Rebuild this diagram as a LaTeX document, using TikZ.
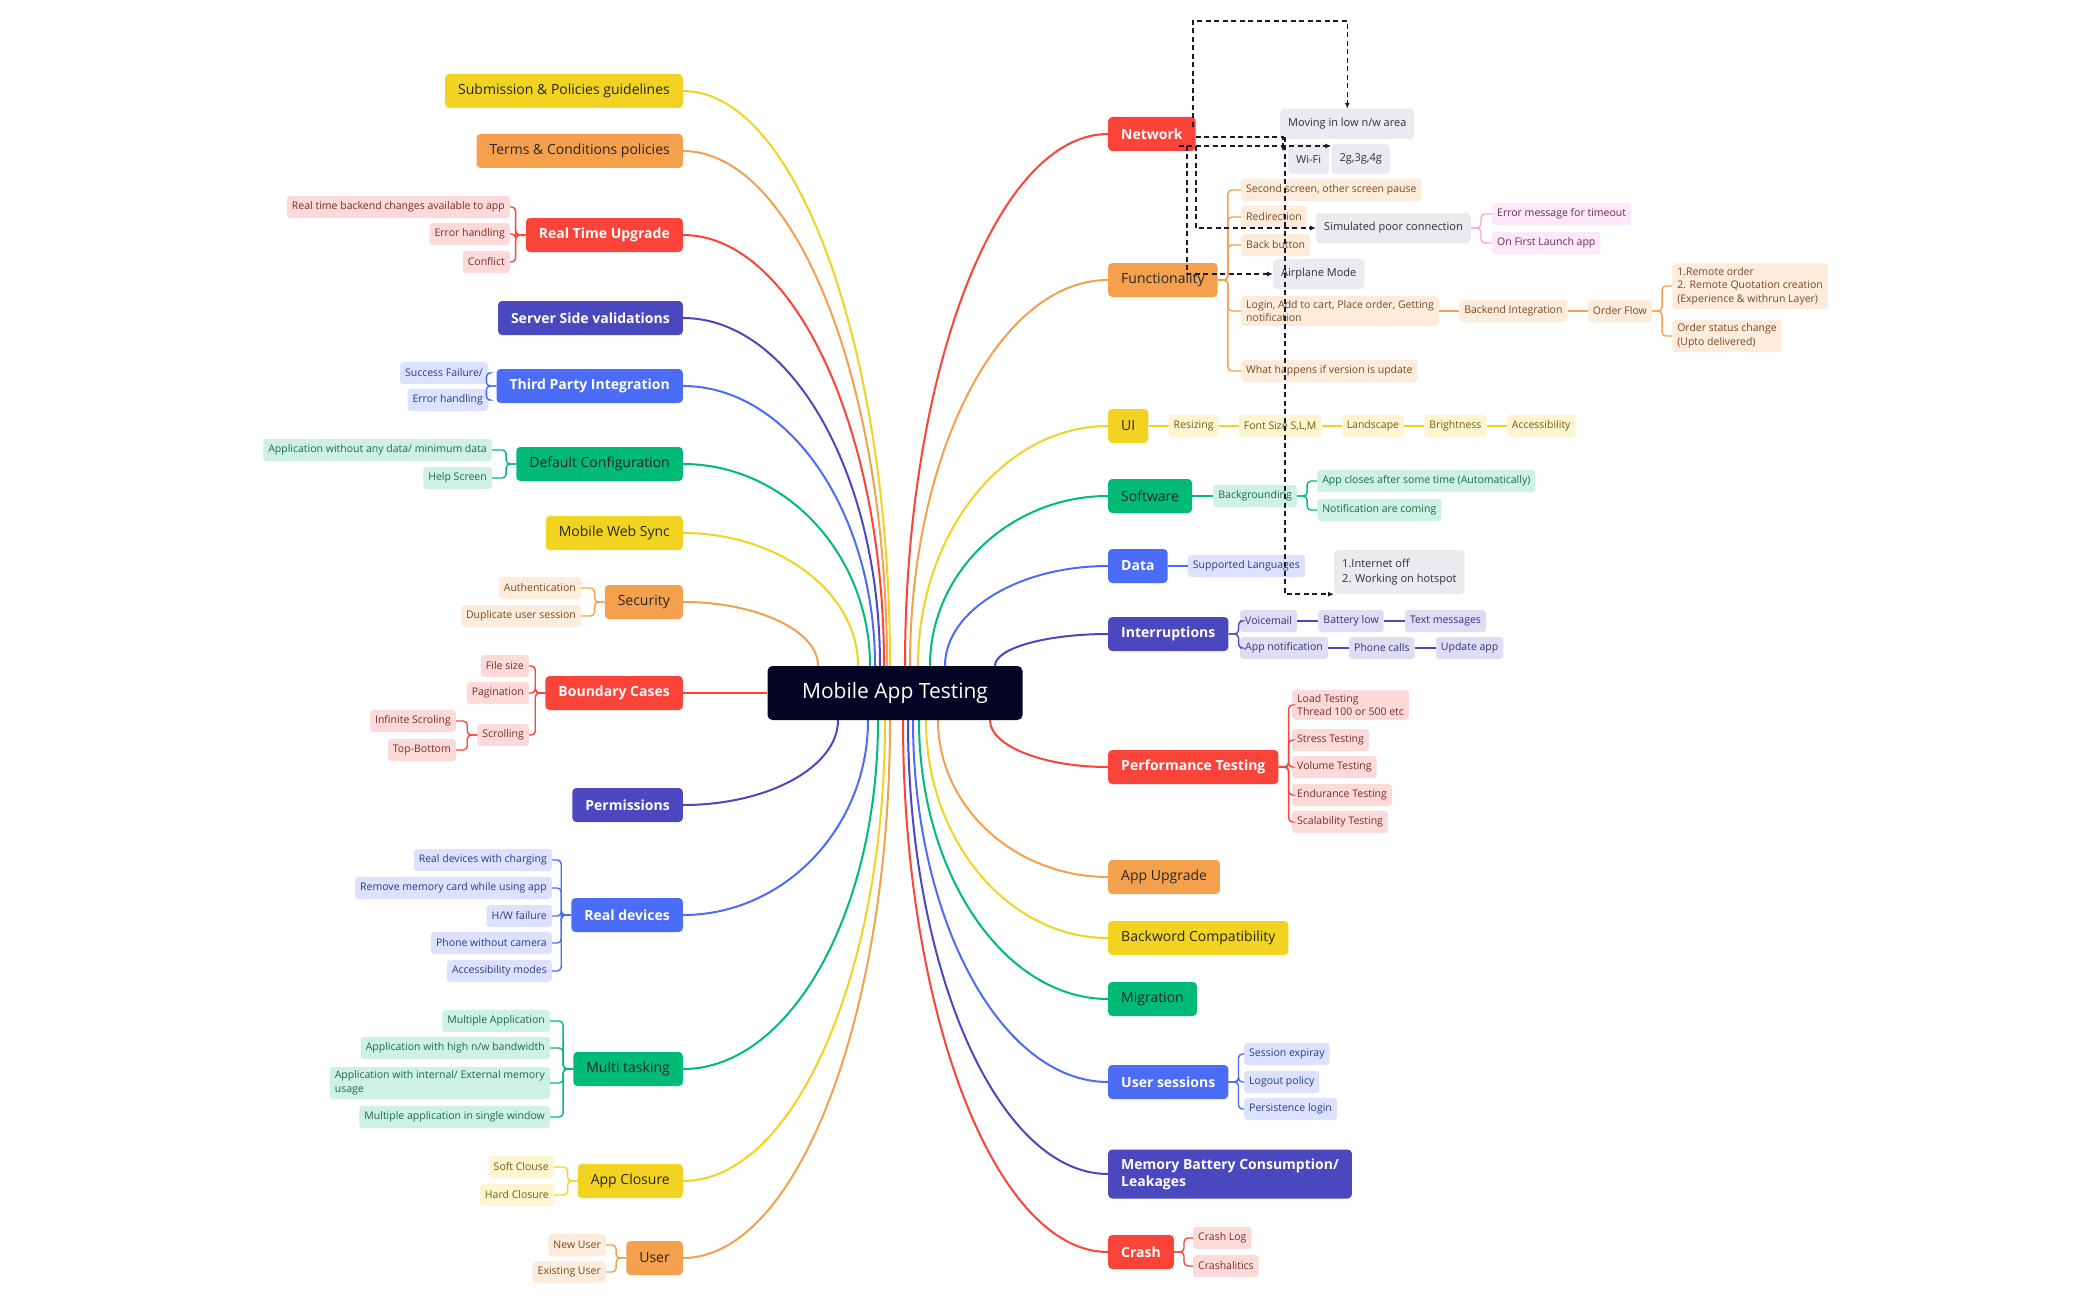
\documentclass[tikz,border=0pt]{standalone}
\usepackage{fontspec}
\setmainfont{Open Sans}
\usetikzlibrary{arrows.meta,positioning,calc,backgrounds}
\definecolor{mmroot}{RGB}{4,4,36}
\definecolor{mmred}{RGB}{250,67,57}
\definecolor{mmorange}{RGB}{245,160,76}
\definecolor{mmyellow}{RGB}{242,211,34}
\definecolor{mmgreen}{RGB}{0,186,120}
\definecolor{mmblue}{RGB}{74,108,247}
\definecolor{mmpurple}{RGB}{75,72,191}
\definecolor{mmpink}{RGB}{245,166,216}
\definecolor{mmdash}{RGB}{25,25,55}
\definecolor{lred}{RGB}{253,218,218}\definecolor{tred}{RGB}{122,43,43}
\definecolor{lorange}{RGB}{253,235,220}\definecolor{torange}{RGB}{122,74,31}
\definecolor{lyellow}{RGB}{253,245,208}\definecolor{tyellow}{RGB}{110,94,18}
\definecolor{lgreen}{RGB}{205,241,227}\definecolor{tgreen}{RGB}{27,107,74}
\definecolor{lblue}{RGB}{220,226,253}\definecolor{tblue}{RGB}{43,58,140}
\definecolor{lpurple}{RGB}{222,221,243}\definecolor{tpurple}{RGB}{52,50,122}
\definecolor{lpink}{RGB}{252,232,246}\definecolor{tpink}{RGB}{107,43,92}
\definecolor{lgray}{RGB}{235,234,238}\definecolor{tgray}{RGB}{46,46,58}
\tikzset{
  topic/.style={rounded corners=4pt, minimum height=34pt, inner xsep=13pt, inner ysep=3pt,
    text=black!85, font=\fontsize{14}{17}\selectfont},
  hottopic/.style={topic, text=white, font=\fontsize{14}{17}\selectfont\bfseries},
  leaf/.style={rounded corners=3pt, minimum height=22pt, inner xsep=5pt, inner ysep=4pt,
    align=left, font=\fontsize{10.5}{13.5}\selectfont},
  rleaf/.style={leaf, fill=lred, text=tred},
  oleaf/.style={leaf, fill=lorange, text=torange},
  yleaf/.style={leaf, fill=lyellow, text=tyellow},
  gleaf/.style={leaf, fill=lgreen, text=tgreen},
  bleaf/.style={leaf, fill=lblue, text=tblue},
  pleaf/.style={leaf, fill=lpurple, text=tpurple},
  kleaf/.style={leaf, fill=lpink, text=tpink},
  ghost/.style={rounded corners=4pt, fill=lgray, text=tgray, minimum height=30pt, inner xsep=8pt,
    inner ysep=4pt, align=left, font=\fontsize{11}{14.5}\selectfont},
  branchline/.style={line width=2pt},
  twigline/.style={line width=1.4pt, rounded corners=4pt},
  netlink/.style={draw=mmdash, line width=1.5pt, dash pattern=on 5pt off 3.5pt,
    -{Latex[length=6pt,width=5pt]}},
}
\newcommand\mmbranch[4]{%
  \coordinate (tip) at ([xshift=#4pt]root.#3);
  \draw[branchline, draw=#1] (#2) .. controls ($(#2)!0.55!(#2 -| tip)$) and ($(tip)!0.55!(#2 -| tip)$) .. (tip);}

\begin{document}
\begin{tikzpicture}[x=1pt,y=-1pt]
  \useasboundingbox (0,0) rectangle (2100,1300);
  \node[fill=mmroot, text=white, rounded corners=5pt, minimum width=255pt, minimum height=54pt,
    font=\fontsize{21}{25}\selectfont] (root) at (895,693) {Mobile App Testing};

  % left topics
  \node[topic, fill=mmyellow, anchor=east] (sub) at (683,91) {Submission \& Policies guidelines};
  \node[topic, fill=mmorange, anchor=east] (terms) at (683,151) {Terms \& Conditions policies};
  \node[hottopic, fill=mmred, anchor=east] (rtu) at (683,235) {Real Time Upgrade};
  \node[hottopic, fill=mmpurple, anchor=east] (ssv) at (683,318) {Server Side validations};
  \node[hottopic, fill=mmblue, anchor=east] (tpi) at (683,386) {Third Party Integration};
  \node[topic, fill=mmgreen, anchor=east] (dconf) at (683,464) {Default Configuration};
  \node[topic, fill=mmyellow, anchor=east] (mws) at (683,533) {Mobile Web Sync};
  \node[topic, fill=mmorange, anchor=east] (sec) at (683,602) {Security};
  \node[hottopic, fill=mmred, anchor=east] (bc) at (683,693) {Boundary Cases};
  \node[hottopic, fill=mmpurple, anchor=east] (perm) at (683,805) {Permissions};
  \node[hottopic, fill=mmblue, anchor=east] (rdev) at (683,915) {Real devices};
  \node[topic, fill=mmgreen, anchor=east] (multi) at (683,1069) {Multi tasking};
  \node[topic, fill=mmyellow, anchor=east] (aclose) at (683,1181) {App Closure};
  \node[topic, fill=mmorange, anchor=east] (user) at (683,1258) {User};

  \node[rleaf, anchor=east] (rt1) at (510,207) {Real time backend changes available to app};
  \node[rleaf, anchor=east] (rt2) at (510,234) {Error handling};
  \node[rleaf, anchor=east] (rt3) at (510,262) {Conflict};
  \node[bleaf, anchor=east] (tp1) at (488,373) {Success Failure/};
  \node[bleaf, anchor=east] (tp2) at (488,400) {Error handling};
  \node[gleaf, anchor=east] (dc1) at (492,450) {Application without any data/ minimum data};
  \node[gleaf, anchor=east] (dc2) at (492,478) {Help Screen};
  \node[oleaf, anchor=east] (se1) at (581,588) {Authentication};
  \node[oleaf, anchor=east] (se2) at (581,616) {Duplicate user session};
  \node[rleaf, anchor=east] (bc1) at (529,666) {File size};
  \node[rleaf, anchor=east] (bc2) at (529,693) {Pagination};
  \node[rleaf, anchor=east] (bc3) at (529,735) {Scrolling};
  \node[rleaf, anchor=east] (sc1) at (456,721) {Infinite Scroling};
  \node[rleaf, anchor=east] (sc2) at (456,750) {Top-Bottom};
  \node[bleaf, anchor=east] (rd1) at (552,860) {Real devices with charging};
  \node[bleaf, anchor=east] (rd2) at (552,888) {Remove memory card while using app};
  \node[bleaf, anchor=east] (rd3) at (552,916) {H/W failure};
  \node[bleaf, anchor=east] (rd4) at (552,943) {Phone without camera};
  \node[bleaf, anchor=east] (rd5) at (552,971) {Accessibility modes};
  \node[gleaf, anchor=east] (mt1) at (550,1021) {Multiple Application};
  \node[gleaf, anchor=east] (mt2) at (550,1048) {Application with high n/w bandwidth};
  \node[gleaf, anchor=east] (mt3) at (550,1083) {Application with internal/ External memory\\usage};
  \node[gleaf, anchor=east] (mt4) at (550,1117) {Multiple application in single window};
  \node[yleaf, anchor=east] (ac1) at (554,1167) {Soft Clouse};
  \node[yleaf, anchor=east] (ac2) at (554,1195) {Hard Closure};
  \node[oleaf, anchor=east] (us1) at (606,1245) {New User};
  \node[oleaf, anchor=east] (us2) at (606,1272) {Existing User};

  % right topics
  \node[hottopic, fill=mmred, anchor=west] (net) at (1108,134) {Network};
  \node[topic, fill=mmorange, anchor=west] (func) at (1108,280) {Functionality};
  \node[topic, fill=mmyellow, anchor=west] (ui) at (1108,426) {UI};
  \node[topic, fill=mmgreen, anchor=west] (soft) at (1108,496) {Software};
  \node[hottopic, fill=mmblue, anchor=west] (data) at (1108,566) {Data};
  \node[hottopic, fill=mmpurple, anchor=west] (intr) at (1108,634) {Interruptions};
  \node[hottopic, fill=mmred, anchor=west] (perf) at (1108,767) {Performance Testing};
  \node[topic, fill=mmorange, anchor=west] (aupg) at (1108,877) {App Upgrade};
  \node[topic, fill=mmyellow, anchor=west] (bcomp) at (1108,938) {Backword Compatibility};
  \node[topic, fill=mmgreen, anchor=west] (migr) at (1108,999) {Migration};
  \node[hottopic, fill=mmblue, anchor=west] (usess) at (1108,1082) {User sessions};
  \node[hottopic, fill=mmpurple, anchor=west, align=left, inner ysep=9pt] (mem) at (1108,1174) {Memory Battery Consumption/\\Leakages};
  \node[hottopic, fill=mmred, anchor=west] (crash) at (1108,1252) {Crash};

  \node[ghost, anchor=west] (mov) at (1280,124) {Moving in low n/w area};
  \node[ghost, anchor=west] (wifi) at (1288,159) {Wi-Fi};
  \node[ghost, right=2pt of wifi] (g234) {2g,3g,4g};
  \node[ghost, anchor=west] (sim) at (1316,228) {Simulated poor connection};
  \node[ghost, anchor=west] (air) at (1273,274) {Airplane Mode};
  \node[ghost, anchor=west, minimum height=44pt] (inet) at (1334,572) {1.Internet off\\2. Working on hotspot};
  \node[kleaf, anchor=west] (sm1) at ([xshift=21pt,yshift=14pt]sim.east) {Error message for timeout};
  \node[kleaf, anchor=west] (sm2) at ([xshift=21pt,yshift=-15pt]sim.east) {On First Launch app};

  \node[oleaf, anchor=west] (fn1) at (1241,190) {Second screen, other screen pause};
  \node[oleaf, anchor=west] (fn2) at (1241,217) {Redirection};
  \node[oleaf, anchor=west] (fn3) at (1241,245) {Back button};
  \node[oleaf, anchor=west] (fn4) at (1241,311) {Login, Add to cart, Place order, Getting\\notification};
  \node[oleaf, anchor=west] (fn5) at (1241,371) {What happens if version is update};
  \node[oleaf, right=20pt of fn4] (backend) {Backend Integration};
  \node[oleaf, right=20pt of backend] (oflow) {Order Flow};
  \node[oleaf, anchor=west] (of1) at ([xshift=20pt,yshift=25pt]oflow.east) {1.Remote order\\2. Remote Quotation creation\\(Experience \& withrun Layer)};
  \node[oleaf, anchor=west] (of2) at ([xshift=20pt,yshift=-25pt]oflow.east) {Order status change\\(Upto delivered)};

  \node[yleaf, right=20pt of ui] (ui1) {Resizing};
  \node[yleaf, right=20pt of ui1] (ui2) {Font Size S,L,M};
  \node[yleaf, right=20pt of ui2] (ui3) {Landscape};
  \node[yleaf, right=20pt of ui3] (ui4) {Brightness};
  \node[yleaf, right=20pt of ui4] (ui5) {Accessibility};
  \node[gleaf, right=21pt of soft] (sw1) {Backgrounding};
  \node[gleaf, anchor=west] (sw2) at ([xshift=20pt,yshift=15pt]sw1.east) {App closes after some time (Automatically)};
  \node[gleaf, anchor=west] (sw3) at ([xshift=20pt,yshift=-14pt]sw1.east) {Notification are coming};
  \node[bleaf, right=20pt of data] (da1) {Supported Languages};
  \node[pleaf, anchor=west] (in1) at (1240,621) {Voicemail};
  \node[pleaf, right=21pt of in1] (in2) {Battery low};
  \node[pleaf, right=21pt of in2] (in3) {Text messages};
  \node[pleaf, anchor=west] (in4) at (1240,648) {App notification};
  \node[pleaf, right=21pt of in4] (in5) {Phone calls};
  \node[pleaf, right=21pt of in5] (in6) {Update app};
  \node[rleaf, anchor=west] (pf1) at (1292,705) {Load Testing\\Thread 100 or 500 etc};
  \node[rleaf, anchor=west] (pf2) at (1292,740) {Stress Testing};
  \node[rleaf, anchor=west] (pf3) at (1292,767) {Volume Testing};
  \node[rleaf, anchor=west] (pf4) at (1292,795) {Endurance Testing};
  \node[rleaf, anchor=west] (pf5) at (1292,822) {Scalability Testing};
  \node[bleaf, anchor=west] (ss1) at (1244,1054) {Session expiray};
  \node[bleaf, anchor=west] (ss2) at (1244,1082) {Logout policy};
  \node[bleaf, anchor=west] (ss3) at (1244,1109) {Persistence login};
  \node[rleaf, anchor=west] (cr1) at (1193,1238) {Crash Log};
  \node[rleaf, anchor=west] (cr2) at (1193,1266) {Crashalitics};

  % branches to the root
  \begin{scope}[on background layer]
    \fill[white] (0,0) rectangle (2100,1300);
    \foreach \n/\c/\s in {sub/mmyellow/-5, terms/mmorange/-8, rtu/mmred/-11, ssv/mmpurple/-15,
        tpi/mmblue/-20, dconf/mmgreen/-25, mws/mmyellow/-37, sec/mmorange/-77}
      \mmbranch{\c}{\n.east}{north}{\s};
    \foreach \n/\c/\s in {perm/mmpurple/-57, rdev/mmblue/-27, multi/mmgreen/-17,
        aclose/mmyellow/-10, user/mmorange/-5}
      \mmbranch{\c}{\n.east}{south}{\s};
    \foreach \n/\c/\s in {net/mmred/10, func/mmorange/15, ui/mmyellow/23, soft/mmgreen/35,
        data/mmblue/50, intr/mmpurple/100}
      \mmbranch{\c}{\n.west}{north}{\s};
    \foreach \n/\c/\s in {perf/mmred/95, aupg/mmorange/43, bcomp/mmyellow/31, migr/mmgreen/24,
        usess/mmblue/18, mem/mmpurple/13, crash/mmred/8}
      \mmbranch{\c}{\n.west}{south}{\s};
    \draw[branchline, draw=mmred] (bc.east) -- (root.west);
  \end{scope}

  % brackets
  \foreach \p/\k/\c in {rtu/rt1/mmred, rtu/rt2/mmred, rtu/rt3/mmred, tpi/tp1/mmblue, tpi/tp2/mmblue,
      dconf/dc1/mmgreen, dconf/dc2/mmgreen, sec/se1/mmorange, sec/se2/mmorange,
      bc/bc1/mmred, bc/bc2/mmred, bc/bc3/mmred, bc3/sc1/mmred, bc3/sc2/mmred,
      rdev/rd1/mmblue, rdev/rd2/mmblue, rdev/rd3/mmblue, rdev/rd4/mmblue, rdev/rd5/mmblue,
      multi/mt1/mmgreen, multi/mt2/mmgreen, multi/mt3/mmgreen, multi/mt4/mmgreen,
      aclose/ac1/mmyellow, aclose/ac2/mmyellow, user/us1/mmorange, user/us2/mmorange}
    \draw[twigline, draw=\c] (\p.west) -- ++(-10pt,0) |- (\k.east);
  \foreach \p/\k/\c in {func/fn1/mmorange, func/fn2/mmorange, func/fn3/mmorange, func/fn4/mmorange,
      func/fn5/mmorange, sim/sm1/mmpink, sim/sm2/mmpink, oflow/of1/mmorange, oflow/of2/mmorange,
      sw1/sw2/mmgreen, sw1/sw3/mmgreen, intr/in1/mmpurple, intr/in4/mmpurple,
      perf/pf1/mmred, perf/pf2/mmred, perf/pf3/mmred, perf/pf4/mmred, perf/pf5/mmred,
      usess/ss1/mmblue, usess/ss2/mmblue, usess/ss3/mmblue, crash/cr1/mmred, crash/cr2/mmred}
    \draw[twigline, draw=\c] (\p.east) -- ++(10pt,0) |- (\k.west);
  \foreach \a/\b/\c in {fn4/backend/mmorange, backend/oflow/mmorange, ui/ui1/mmyellow,
      ui1/ui2/mmyellow, ui2/ui3/mmyellow, ui3/ui4/mmyellow, ui4/ui5/mmyellow, soft/sw1/mmgreen,
      data/da1/mmblue, in1/in2/mmpurple, in2/in3/mmpurple, in4/in5/mmpurple, in5/in6/mmpurple}
    \draw[twigline, draw=\c] (\a) -- (\b);

  % network links
  \coordinate (nk) at ([xshift=-17pt,yshift=-12pt]net.east);
  \draw[netlink] ([xshift=-3pt,yshift=-10pt]net.north east) -- ++(0,-106) -| (mov.north);
  \draw[netlink] ([yshift=-3pt]net.east) -| ([xshift=-5pt,yshift=-8pt]wifi.north west);
  \draw[netlink] (nk) -- (nk -| g234.west);
  \draw[netlink] (nk -| net.east) |- (sim.west);
  \draw[netlink] ($(nk -| net.east)+(-9,0)$) |- (air.west);
  \draw[netlink] ([xshift=89pt,yshift=-3pt]net.east) |- (inet.south west);
\end{tikzpicture}
\end{document}
